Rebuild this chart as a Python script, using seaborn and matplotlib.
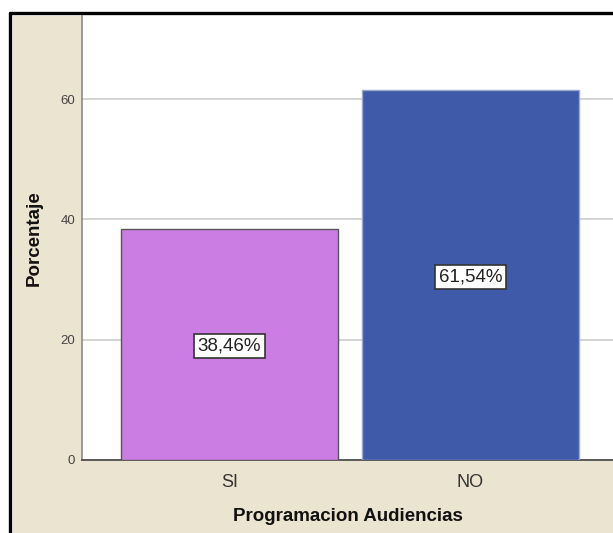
import matplotlib
matplotlib.use("Agg")
import matplotlib.pyplot as plt
import seaborn as sns
import pandas as pd
from matplotlib.patches import Rectangle
from matplotlib.lines import Line2D

categories = ["SI", "NO"]
values = [38.46, 61.54]
labels = ["38,46%", "61,54%"]
bar_colors = ["#CB7DE3", "#3E5AA8"]
edge_colors = ["#555555", "#9AA8D0"]
yticks = [0, 20, 40, 60]

sns.set_style("white")
plt.rcParams['font.family'] = ['Liberation Sans', 'DejaVu Sans']

W, H = 613, 533
fig = plt.figure(figsize=(W / 100, H / 100), dpi=100, facecolor="white")

beige = "#EBE4D1"
# beige panel
fig.add_artist(Rectangle((13 / W, 0), 1 - 13 / W, 1 - 16 / H, transform=fig.transFigure,
                         facecolor=beige, edgecolor="none", zorder=0))
# black frame lines (left and top)
fig.add_artist(Line2D([9.5 / W, 9.5 / W], [0, 1 - 13 / H], transform=fig.transFigure,
                      color="black", linewidth=2.4, zorder=1))
fig.add_artist(Line2D([9.5 / W, 1], [1 - 13 / H, 1 - 13 / H], transform=fig.transFigure,
                      color="black", linewidth=2.4, zorder=1))

ax = fig.add_axes([82 / W, 1 - 460 / H, 1 - 82 / W, (460 - 16) / H])
ax.set_facecolor("white")

df = pd.DataFrame({"cat": categories, "val": values})
sns.barplot(data=df, x="cat", y="val", hue="cat", palette=bar_colors, width=0.9,
            legend=False, ax=ax, zorder=3, saturation=1)
for p, ec in zip(ax.patches, edge_colors):
    p.set_edgecolor(ec)
    p.set_linewidth(1.0)

for i, (v, lab) in enumerate(zip(values, labels)):
    ax.text(i, v / 2, lab, ha="center", va="center_baseline", fontsize=13.5, color="#222222",
            zorder=5,
            bbox=dict(boxstyle="square,pad=0.18", facecolor="white", edgecolor="#333333",
                      linewidth=1.2))

px_per_unit = (460 - 99) / 60
ax.set_ylim(0, (460 - 16) / px_per_unit)
ax.set_xlim((82 - 229.5) / 241, (613 - 229.5) / 241)
ax.set_yticks(yticks)
ax.set_yticklabels([str(t) for t in yticks])
ax.yaxis.grid(True, color="#D3D3D3", linewidth=1.4, zorder=0)
ax.set_axisbelow(True)
ax.tick_params(axis="y", length=0, pad=5, labelsize=9.5, labelcolor="#444444")
ax.tick_params(axis="x", length=0, pad=10, labelsize=13, labelcolor="#333333")

for s in ["top", "right"]:
    ax.spines[s].set_visible(False)
ax.spines["left"].set_color("#8A8A8A")
ax.spines["left"].set_linewidth(1.2)
ax.spines["bottom"].set_color("#444444")
ax.spines["bottom"].set_linewidth(1.2)

ax.set_xlabel("Programacion Audiencias", fontsize=13.5, fontweight="bold", color="#111111",
              labelpad=12)
ax.set_ylabel("Porcentaje", fontsize=13.5, fontweight="bold", color="#111111")
ax.yaxis.set_label_coords((43 - 82) / (W - 82), 0.5)

fig.savefig("out.png", dpi=100, facecolor="white")
